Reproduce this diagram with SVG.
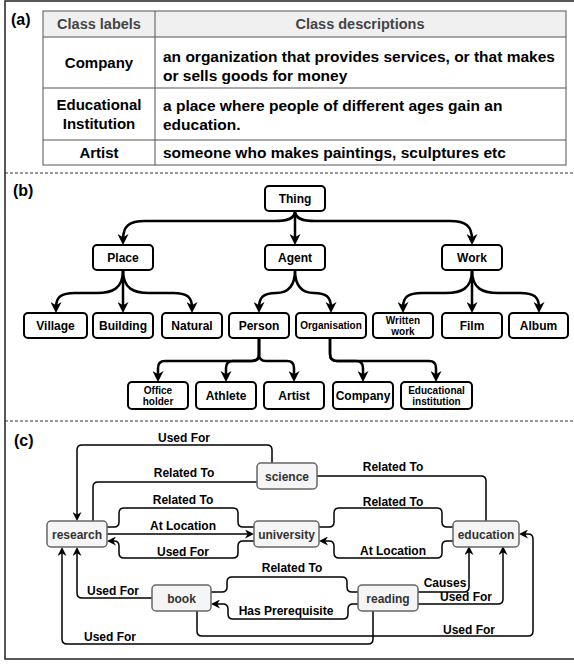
<svg xmlns="http://www.w3.org/2000/svg" width="574" height="664" viewBox="0 0 574 664">
<style>
  text { font-family: "Liberation Sans", Arial, sans-serif; font-weight: bold; }
  .sec { font-size: 16px; fill: #000; }
  .th { font-size: 14.5px; fill: #444; text-anchor: middle; }
  .td { font-size: 15.5px; fill: #000; }
  .tdc { font-size: 15px; fill: #000; text-anchor: middle; }
  .tb { fill: none; stroke: #555; stroke-width: 1; }
  .bn rect { fill: #fff; stroke: #000; stroke-width: 2; }
  .bn text { font-size: 12px; fill: #000; text-anchor: middle; }
  .bn text.s { font-size: 10px; }
  .bedge path { fill: none; stroke: #000; stroke-width: 2.5; marker-end: url(#ab); }
  .cn rect { fill: #f5f5f5; stroke: #666; stroke-width: 1.5; }
  .cn text { font-size: 12px; fill: #333; text-anchor: middle; }
  .cedge path { fill: none; stroke: #000; stroke-width: 1.5; }
  .cedge path.a { marker-end: url(#ac); }
  .lbl { font-size: 12px; fill: #000; text-anchor: middle; }
</style>
<defs>
  <marker id="ab" viewBox="0 0 10 10" refX="5" refY="5" markerWidth="11" markerHeight="11" markerUnits="userSpaceOnUse" orient="auto">
    <path d="M0,0 L10,5 L0,10 L3,5 z" fill="#000"/>
  </marker>
  <marker id="ac" viewBox="0 0 10 10" refX="5" refY="5" markerWidth="9" markerHeight="9" markerUnits="userSpaceOnUse" orient="auto">
    <path d="M0,0 L10,5 L0,10 L3,5 z" fill="#000"/>
  </marker>
</defs>
<rect x="0" y="0" width="574" height="664" fill="#fff"/>
<rect x="5" y="1" width="572" height="658" fill="none" stroke="#222" stroke-width="1.5"/>
<line x1="5" y1="173" x2="574" y2="173" stroke="#333" stroke-width="1" stroke-dasharray="3,2"/>
<line x1="5" y1="421" x2="574" y2="421" stroke="#333" stroke-width="1" stroke-dasharray="3,2"/>

<!-- (a) table -->
<g id="table">
  <text class="sec" x="11" y="25">(a)</text>
  <rect x="43" y="11" width="523" height="26" fill="#f0f0f0" stroke="none"/>
  <rect class="tb" x="43" y="11" width="523" height="154"/>
  <line class="tb" x1="43" y1="37" x2="566" y2="37"/>
  <line class="tb" x1="43" y1="88" x2="566" y2="88"/>
  <line class="tb" x1="43" y1="140" x2="566" y2="140"/>
  <line class="tb" x1="155" y1="11" x2="155" y2="165"/>
  <text class="th" x="99" y="29">Class labels</text>
  <text class="th" x="360" y="29">Class descriptions</text>
  <text class="tdc" x="99" y="68">Company</text>
  <text class="td" x="163" y="62">an organization that provides services, or that makes</text>
  <text class="td" x="163" y="81">or sells goods for money</text>
  <text class="tdc" x="99" y="110">Educational</text>
  <text class="tdc" x="99" y="129">Institution</text>
  <text class="td" x="163" y="111">a place where people of different ages gain an</text>
  <text class="td" x="163" y="130">education.</text>
  <text class="tdc" x="99" y="158">Artist</text>
  <text class="td" x="163" y="158">someone who makes paintings, sculptures etc</text>
</g>

<!-- (b) hierarchy -->
<text class="sec" x="13" y="196">(b)</text>
<g class="bedge" id="b-connectors">
  <path d="M295,211 C295,219 287,221 275,221 L145,221 C129,221 123,226 123,239.5"/>
  <path d="M295,211 L295,239.5"/>
  <path d="M295,211 C295,219 303,221 315,221 L450,221 C466,221 472,226 472,239.5"/>
  <path d="M123,270 C123,289 112,293 97,293 L75,293 C61,293 56,297 56,307.5"/>
  <path d="M123,270 L123,307.5"/>
  <path d="M123,270 C123,289 134,293 149,293 L173,293 C187,293 192,297 192,307.5"/>
  <path d="M295,270 C295,288 286,293 276,293 C264,293 259,297 259,307.5"/>
  <path d="M295,270 C295,288 304,293 314,293 C326,293 331,297 331,307.5"/>
  <path d="M472,270 C472,289 461,293 446,293 L422,293 C408,293 403,297 403,307.5"/>
  <path d="M472,270 L472,307.5"/>
  <path d="M472,270 C472,289 483,293 498,293 L520,293 C534,293 539,297 539,307.5"/>
  <path d="M259,338 L259,354 Q259,361 252,361 L165,361 Q158,361 158,368 L158,376.5"/>
  <path d="M259,338 L259,354 Q259,361 252,361 L233,361 Q226,361 226,368 L226,376.5"/>
  <path d="M259,338 L259,354 Q259,361 266,361 L287,361 Q294,361 294,368 L294,376.5"/>
  <path d="M330,338 L330,354 Q330,361 337,361 L356,361 Q363,361 363,368 L363,376.5"/>
  <path d="M330,338 L330,354 Q330,361 337,361 L429,361 Q436,361 436,368 L436,376.5"/>
</g>
<g class="bn" id="n-thing"><rect x="265" y="186" width="60" height="25" rx="4"/><text x="295" y="203">Thing</text></g>
<g class="bn" id="n-place"><rect x="93" y="245" width="60" height="25" rx="4"/><text x="123" y="262">Place</text></g>
<g class="bn" id="n-agent"><rect x="265" y="245" width="60" height="25" rx="4"/><text x="295" y="262">Agent</text></g>
<g class="bn" id="n-work"><rect x="442" y="245" width="60" height="25" rx="4"/><text x="472" y="262">Work</text></g>
<g class="bn" id="n-village"><rect x="24" y="313" width="63" height="25" rx="4"/><text x="55.5" y="330">Village</text></g>
<g class="bn" id="n-building"><rect x="93" y="313" width="60" height="25" rx="4"/><text x="123" y="330">Building</text></g>
<g class="bn" id="n-natural"><rect x="162" y="313" width="60" height="25" rx="4"/><text x="192" y="330">Natural</text></g>
<g class="bn" id="n-person"><rect x="229" y="313" width="60" height="25" rx="4"/><text x="259" y="330">Person</text></g>
<g class="bn" id="n-organisation"><rect x="296" y="313" width="70" height="25" rx="4"/><text class="s" x="331" y="329">Organisation</text></g>
<g class="bn" id="n-written"><rect x="373" y="313" width="60" height="25" rx="4"/><text class="s" x="403" y="324">Written</text><text class="s" x="403" y="335">work</text></g>
<g class="bn" id="n-film"><rect x="442" y="313" width="60" height="25" rx="4"/><text x="472" y="330">Film</text></g>
<g class="bn" id="n-album"><rect x="509" y="313" width="59" height="25" rx="4"/><text x="538.5" y="330">Album</text></g>
<g class="bn" id="n-office"><rect x="128" y="382" width="60" height="27" rx="4"/><text class="s" x="158" y="394">Office</text><text class="s" x="158" y="405">holder</text></g>
<g class="bn" id="n-athlete"><rect x="196" y="382" width="60" height="27" rx="4"/><text x="226" y="400">Athlete</text></g>
<g class="bn" id="n-artist"><rect x="264" y="382" width="60" height="27" rx="4"/><text x="294" y="400">Artist</text></g>
<g class="bn" id="n-company"><rect x="333" y="382" width="60" height="27" rx="4"/><text x="363" y="400">Company</text></g>
<g class="bn" id="n-edu"><rect x="401" y="382" width="71" height="27" rx="4"/><text class="s" x="436.5" y="394">Educational</text><text class="s" x="436.5" y="405">institution</text></g>

<!-- (c) graph -->
<text class="sec" x="14" y="446">(c)</text>
<g class="cedge" id="c-connectors">
  <path class="a" d="M272,463 L272,450 Q272,445 267,445 L82,445 Q77,445 77,450 L77,516.5"/>
  <path d="M93,521 L93,487 Q93,482 98,482 L257,482"/>
  <path d="M317,476 L481,476 Q486,476 486,481 L486,521"/>
  <path d="M107,527 L114,527 Q119,527 119,522 L119,513 Q119,508 124,508 L233,508 Q238,508 238,513 L238,522 Q238,527 243,527 L254,527"/>
  <path class="a" d="M107,534 L249.5,534"/>
  <path class="a" d="M254,541 L243,541 Q238,541 238,546 L238,553 Q238,558 233,558 L124,558 Q119,558 119,553 L119,546 Q119,541 114,541 L111.5,541"/>
  <path d="M319,527 L329,527 Q334,527 334,522 L334,513 Q334,508 339,508 L437,508 Q442,508 442,513 L442,522 Q442,527 447,527 L453,527"/>
  <path class="a" d="M453,541 L447,541 Q442,541 442,546 L442,553 Q442,558 437,558 L339,558 Q334,558 334,553 L334,546 Q334,541 329,541 L323.5,541"/>
  <path d="M211,592 L222,592 Q227,592 227,587 L227,582 Q227,577 232,577 L342,577 Q347,577 347,582 L347,587 Q347,592 352,592 L358,592"/>
  <path class="a" d="M358,604 L353,604 Q348,604 348,609 L348,614 Q348,619 343,619 L233,619 Q228,619 228,614 L228,609 Q228,604 223,604 L215.5,604"/>
  <path class="a" d="M152,598 L82,598 Q77,598 77,593 L77,551.5"/>
  <path class="a" d="M373,611 L373,639 Q373,644 368,644 L67,644 Q62,644 62,639 L62,551.5"/>
  <path class="a" d="M197,611 L197,631 Q197,636 202,636 L528,636 Q533,636 533,631 L533,539 Q533,534 528,534 L523.5,534"/>
  <path class="a" d="M418,592 L464,592 Q469,592 469,587 L469,550.5"/>
  <path class="a" d="M418,604 L498,604 Q503,604 503,599 L503,550.5"/>
  <text class="lbl" x="184" y="442">Used For</text>
  <text class="lbl" x="184" y="477">Related To</text>
  <text class="lbl" x="393" y="471">Related To</text>
  <text class="lbl" x="183" y="504">Related To</text>
  <text class="lbl" x="183" y="530">At Location</text>
  <text class="lbl" x="183" y="556">Used For</text>
  <text class="lbl" x="393" y="506">Related To</text>
  <text class="lbl" x="393" y="555">At Location</text>
  <text class="lbl" x="292" y="572">Related To</text>
  <text class="lbl" x="286" y="615">Has Prerequisite</text>
  <text class="lbl" x="113" y="595">Used For</text>
  <text class="lbl" x="110" y="641">Used For</text>
  <text class="lbl" x="469" y="634">Used For</text>
  <text class="lbl" x="445" y="587">Causes</text>
  <text class="lbl" x="466" y="601">Used For</text>
</g>
<g class="cn" id="n-research"><rect x="47" y="521" width="60" height="26" rx="4"/><text x="77" y="538.5">research</text></g>
<g class="cn" id="n-science"><rect x="257" y="463" width="60" height="26" rx="4"/><text x="287" y="480.5">science</text></g>
<g class="cn" id="n-university"><rect x="254" y="521" width="65" height="26" rx="4"/><text x="286.5" y="538.5">university</text></g>
<g class="cn" id="n-education"><rect x="453" y="521" width="66" height="26" rx="4"/><text x="486" y="538.5">education</text></g>
<g class="cn" id="n-book"><rect x="152" y="585" width="59" height="26" rx="4"/><text x="181.5" y="602.5">book</text></g>
<g class="cn" id="n-reading"><rect x="358" y="585" width="60" height="26" rx="4"/><text x="388" y="602.5">reading</text></g>
</svg>
